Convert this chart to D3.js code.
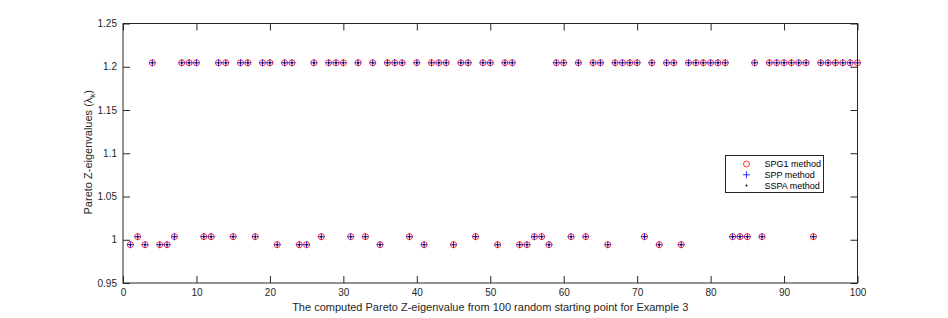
<!DOCTYPE html>
<html>
<head>
<meta charset="utf-8">
<script src="https://cdn.jsdelivr.net/npm/d3@7.9.0/dist/d3.min.js"></script>
<style>
  html, body { margin: 0; padding: 0; background: #fff; }
  svg { display: block; font-family: "Liberation Sans", Arial, sans-serif; }
</style>
</head>
<body>
<svg id="chart" width="948" height="318"></svg>
<script>
// run index (starting point number) and the eigenvalue each run converged to
const runs = [
  1, 2, 3, 4, 5, 6, 7, 8, 9, 10, 11, 12, 13, 14, 15, 16, 17, 18, 19, 20,
  21, 22, 23, 24, 25, 26, 27, 28, 29, 30, 31, 32, 33, 34, 35, 36, 37, 38, 39, 40,
  41, 42, 43, 44, 45, 46, 47, 48, 49, 50, 51, 52, 53, 54, 55, 56, 57, 58, 59, 60,
  61, 62, 63, 64, 65, 66, 67, 68, 69, 70, 71, 72, 73, 74, 75, 76, 77, 78, 79, 80,
  81, 82, 83, 84, 85, 86, 87, 88, 89, 90, 91, 92, 93, 94, 95, 96, 97, 98, 99, 100
];
const eigenvalues = [
  0.9943, 1.0036, 0.9943, 1.2046, 0.9943, 0.9943, 1.0036, 1.2046, 1.2046, 1.2046,
  1.0036, 1.0036, 1.2046, 1.2046, 1.0036, 1.2046, 1.2046, 1.0036, 1.2046, 1.2046,
  0.9943, 1.2046, 1.2046, 0.9943, 0.9943, 1.2046, 1.0036, 1.2046, 1.2046, 1.2046,
  1.0036, 1.2046, 1.0036, 1.2046, 0.9943, 1.2046, 1.2046, 1.2046, 1.0036, 1.2046,
  0.9943, 1.2046, 1.2046, 1.2046, 0.9943, 1.2046, 1.2046, 1.0036, 1.2046, 1.2046,
  0.9943, 1.2046, 1.2046, 0.9943, 0.9943, 1.0036, 1.0036, 0.9943, 1.2046, 1.2046,
  1.0036, 1.2046, 1.0036, 1.2046, 1.2046, 0.9943, 1.2046, 1.2046, 1.2046, 1.2046,
  1.0036, 1.2046, 0.9943, 1.2046, 1.2046, 0.9943, 1.2046, 1.2046, 1.2046, 1.2046,
  1.2046, 1.2046, 1.0036, 1.0036, 1.0036, 1.2046, 1.0036, 1.2046, 1.2046, 1.2046,
  1.2046, 1.2046, 1.2046, 1.0036, 1.2046, 1.2046, 1.2046, 1.2046, 1.2046, 1.2046
];
// all three methods land on the same values
const methods = ['SPG1 method', 'SPP method', 'SSPA method'];
const xTicks = [0, 10, 20, 30, 40, 50, 60, 70, 80, 90, 100];
const yTicks = [0.95, 1, 1.05, 1.1, 1.15, 1.2, 1.25];

const points = runs.map((r, i) => ({ run: r, value: eigenvalues[i] }));

const svg = d3.select('#chart');
const pLeft = 123, pRight = 857.5, pTop = 23.5, pBottom = 283;
const axisColor = '#262626';

const x = d3.scaleLinear().domain([0, 100]).range([pLeft, pRight]);
const y = d3.scaleLinear().domain([0.95, 1.25]).range([pBottom, pTop]);

//axes box
svg.append('rect')
    .attr('x', pLeft).attr('y', pTop)
    .attr('width', pRight - pLeft).attr('height', pBottom - pTop)
    .attr('fill', 'none').attr('stroke', axisColor).attr('stroke-width', 1);

const tickLen = 7;

//inward ticks on all four sides (padding is measured from the axis since ticks point in)
const gx = svg.append('g').attr('transform', `translate(0,${pBottom})`)
    .call(d3.axisBottom(x).tickValues(xTicks).tickSizeInner(-tickLen).tickSizeOuter(0).tickPadding(6)
        .tickFormat(d3.format('d')));
const gxTop = svg.append('g').attr('transform', `translate(0,${pTop})`)
    .call(d3.axisTop(x).tickValues(xTicks).tickSizeInner(-tickLen).tickSizeOuter(0).tickFormat(''));
const gy = svg.append('g').attr('transform', `translate(${pLeft},0)`)
    .call(d3.axisLeft(y).tickValues(yTicks).tickSizeInner(-tickLen).tickSizeOuter(0).tickPadding(6)
        .tickFormat(d => String(+d.toFixed(2))));
const gyRight = svg.append('g').attr('transform', `translate(${pRight},0)`)
    .call(d3.axisRight(y).tickValues(yTicks).tickSizeInner(-tickLen).tickSizeOuter(0).tickFormat(''));

[gx, gxTop, gy, gyRight].forEach(g => {
    g.select('.domain').remove();
    g.selectAll('line').attr('stroke', axisColor).attr('stroke-width', 1);
    g.selectAll('text').attr('fill', axisColor).attr('font-size', 10)
        .attr('font-family', '"Liberation Sans", Arial, sans-serif');
});

//labels
svg.append('text')
    .attr('x', (pLeft + pRight) / 2).attr('y', 311)
    .attr('text-anchor', 'middle').attr('font-size', 11).attr('fill', axisColor)
    .text('The computed Pareto Z-eigenvalue from 100 random starting point for Example 3');

const ylab = svg.append('text')
    .attr('transform', `translate(92,${(pTop + pBottom) / 2 - 1}) rotate(-90)`)
    .attr('text-anchor', 'middle').attr('font-size', 11).attr('fill', axisColor);
ylab.append('tspan').text('Pareto Z-eigenvalues (\u03bb');
ylab.append('tspan').attr('font-size', 8).attr('dy', 3).text('k');
ylab.append('tspan').attr('dy', -3).text(')');

//markers: red circle, blue plus, black dot
const marks = svg.append('g');
marks.selectAll('circle.spg1').data(points).join('circle')
    .attr('class', 'spg1')
    .attr('cx', d => x(d.run)).attr('cy', d => y(d.value)).attr('r', 3)
    .attr('fill', 'none').attr('stroke', '#ff0000').attr('stroke-width', 0.8);
marks.selectAll('path.spp').data(points).join('path')
    .attr('class', 'spp')
    .attr('d', d => `M${x(d.run) - 3.5},${y(d.value)}h7M${x(d.run)},${y(d.value) - 3.5}v7`)
    .attr('stroke', '#0000ff').attr('stroke-width', 0.8);
marks.selectAll('circle.sspa').data(points).join('circle')
    .attr('class', 'sspa')
    .attr('cx', d => x(d.run)).attr('cy', d => y(d.value)).attr('r', 1)
    .attr('fill', '#000');

//legend
const lg = svg.append('g').attr('transform', 'translate(725.5,155.5)');
lg.append('rect').attr('width', 98).attr('height', 37)
    .attr('fill', '#fff').attr('stroke', axisColor).attr('stroke-width', 1);
methods.forEach((m, i) => {
    const row = lg.append('g').attr('transform', `translate(21,${8.5 + i * 10.8})`);
    if (i === 0) row.append('circle').attr('r', 3).attr('fill', 'none').attr('stroke', '#ff0000').attr('stroke-width', 0.8);
    if (i === 1) row.append('path').attr('d', 'M-3.5,0h7M0,-3.5v7').attr('stroke', '#0000ff').attr('stroke-width', 0.8);
    if (i === 2) row.append('circle').attr('r', 1).attr('fill', '#000');
    row.append('text').attr('x', 18).attr('dy', '0.35em')
        .attr('font-size', 9).attr('fill', '#000').text(m);
});
</script>
</body>
</html>
